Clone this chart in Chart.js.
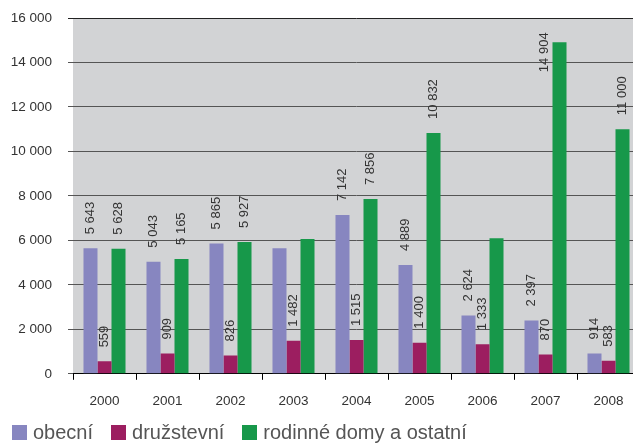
<!DOCTYPE html>
<html>
<head>
<meta charset="utf-8">
<script src="https://cdn.jsdelivr.net/npm/chart.js@4.4.0/dist/chart.umd.min.js"></script>
<style>
    html, body { margin: 0; padding: 0; background: #fff; overflow: hidden; }
    #wrap { position: relative; width: 640px; height: 443px; }
    #legend {
        position: absolute; left: 12px; top: 422px;
        display: flex; align-items: center;
        font-family: "Liberation Sans", Arial, sans-serif; font-size: 20px; color: #555;
        line-height: 20px; white-space: nowrap;
    }
    #legend .item { display: flex; align-items: center; margin-right: 18px; }
    #legend .box { width: 15px; height: 15px; margin-right: 6px; }
</style>
</head>
<body>
<div id="wrap">
    <canvas id="chart"></canvas>
    <div id="legend"></div>
</div>
<script>
// Years on the x axis
const years = ['2000', '2001', '2002', '2003', '2004', '2005', '2006', '2007', '2008'];

// Completed dwellings by type
const obecni = [5643, 5043, 5865, 5650, 7142, 4889, 2624, 2397, 914];
const druzstevni = [559, 909, 826, 1482, 1515, 1400, 1333, 870, 583];
const rodinne = [5628, 5165, 5927, 6060, 7856, 10832, 6100, 14904, 11000];

// Bars that carry no value label in the original: [series, year index]
const unlabelled = [[0, 3], [2, 3], [2, 6]];

// y axis ticks
const yTicks = [0, 2000, 4000, 6000, 8000, 10000, 12000, 14000, 16000];

const fmt = (v) => String(v).replace(/\B(?=(\d{3})+(?!\d))/g, ' ');
const FONT = '"Liberation Sans", Arial, sans-serif';

// gray plot background
const plotBackground = {
    id: 'plotBackground',
    beforeDraw(chart) {
        const {ctx, chartArea} = chart;
        ctx.save();
        ctx.fillStyle = '#d2d3d5';
        ctx.fillRect(chartArea.left, chartArea.top, chartArea.right - chartArea.left, chartArea.bottom - chartArea.top);
        ctx.restore();
    }
};

// vertical value labels above bars
const valueLabels = {
    id: 'valueLabels',
    afterDatasetsDraw(chart) {
        const {ctx, chartArea} = chart;
        ctx.save();
        ctx.font = '13px ' + FONT;
        ctx.fillStyle = '#333';
        ctx.textBaseline = 'middle';
        chart.data.datasets.forEach((ds, di) => {
            const meta = chart.getDatasetMeta(di);
            meta.data.forEach((bar, i) => {
                if (unlabelled.some(([s, k]) => s === di && k === i)) return;
                const text = fmt(ds.data[i]);
                const w = ctx.measureText(text).width;
                let x = bar.x;
                let y = bar.y - 14;
                ctx.save();
                if (y - w < chartArea.top + 4) {
                    // no room above: put it beside the bar
                    x = bar.x - bar.width / 2 - 8;
                    y = bar.y - 10 + w;
                }
                ctx.translate(x, y);
                ctx.rotate(-Math.PI / 2);
                ctx.textAlign = 'left';
                ctx.fillText(text, 0, 0);
                ctx.restore();
            });
        });
        ctx.restore();
    }
};

const ctx = document.getElementById('chart').getContext('2d');
const chart = new Chart(ctx, {
    type: 'bar',
    data: {
        labels: years,
        datasets: [
            {label: 'obecní', data: obecni, backgroundColor: '#8786c0'},
            {label: 'družstevní', data: druzstevni, backgroundColor: '#9c1e60'},
            {label: 'rodinné domy a ostatní', data: rodinne, backgroundColor: '#17984a'}
        ]
    },
    options: {
        responsive: true,
        maintainAspectRatio: false,
        animation: false,
        datasets: {
            bar: {categoryPercentage: 0.667, barPercentage: 1.0}
        },
        layout: {padding: {left: 0, right: 0, top: 18, bottom: 21}},
        plugins: {
            legend: {display: false},
            tooltip: {enabled: false}
        },
        scales: {
            x: {
                offset: true,
                grid: {
                    offset: true,
                    drawOnChartArea: false,
                    drawTicks: true,
                    tickLength: 6,
                    color: '#000'
                },
                border: {display: true, color: '#000', width: 1},
                ticks: {
                    color: '#333',
                    padding: 13,
                    font: {family: FONT, size: 13.5}
                }
            },
            y: {
                min: 0,
                max: 16000,
                afterBuildTicks(scale) {
                    scale.ticks = yTicks.map(v => ({value: v}));
                },
                afterFit(scale) {
                    scale.width = 73;
                    scale.paddingTop = 0;
                    scale.paddingBottom = 0;
                },
                grid: {
                    color: (c) => c.tick && c.tick.value === 16000 ? '#222' : '#555',
                    tickColor: (c) => c.tick && c.tick.value === 16000 ? '#222' : '#555',
                    tickLength: 5,
                    lineWidth: 1
                },
                border: {display: false},
                ticks: {
                    color: '#333',
                    padding: 16,
                    font: {family: FONT, size: 13.5},
                    callback: (v) => fmt(v)
                }
            }
        }
    },
    plugins: [plotBackground, valueLabels]
});

// legend built from the datasets
const legendEl = document.getElementById('legend');
chart.data.datasets.forEach(ds => {
    const item = document.createElement('div');
    item.className = 'item';
    const box = document.createElement('span');
    box.className = 'box';
    box.style.background = ds.backgroundColor;
    const label = document.createElement('span');
    label.textContent = ds.label;
    item.appendChild(box);
    item.appendChild(label);
    legendEl.appendChild(item);
});
</script>
</body>
</html>
